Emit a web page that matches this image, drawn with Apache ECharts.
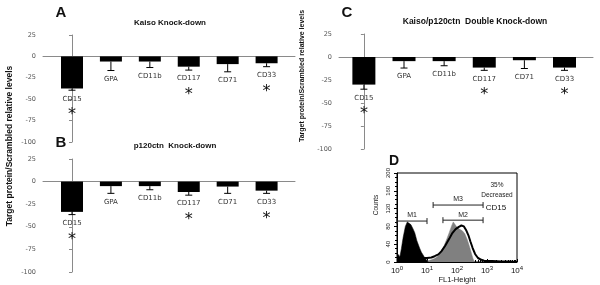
<!DOCTYPE html>
<html>
<head>
<meta charset="utf-8">
<script src="https://cdn.jsdelivr.net/npm/echarts@6/dist/echarts.min.js"></script>
<style>
  html, body { margin: 0; padding: 0; background: #fff; }
  #chart { width: 600px; height: 285px; }
</style>
</head>
<body>
<div id="chart"></div>
<script>
// bar panels A-C: target protein / scrambled relative levels (%)
const categories = ['CD15', 'GPA', 'CD11b', 'CD117', 'CD71', 'CD33'];
const stars = ['*', '', '', '*', '', '*'];
const kaisoMean = [-37.5, -6, -6, -12, -9, -8];
const kaisoErr = [2, 10.5, 7, 4, 9, 4];
const p120Mean = [-33.5, -5, -5, -11.5, -5.5, -10];
const p120Err = [3, 8, 4, 3.5, 7.5, 3];
const doubleMean = [-30, -4.5, -4.5, -11.5, -3.5, -11.5];
const doubleErr = [5, 7.5, 5, 3, 9, 3];
const levelMin = -100, levelMax = 25, levelStep = 25;

// panel D: flow histogram (FL1-Height vs counts)
const isoChannel = [1, 1.1, 1.25, 1.4, 1.6, 1.9, 2.2, 2.5, 2.9, 3.4, 3.9, 4.6, 5.7, 6.5, 7.4, 8.5, 9.5, 11];
const isoCounts = [20, 22, 12, 30, 55, 80, 90, 86, 84, 75, 66, 48, 31, 22, 16, 9, 5, 0];
const scrChannel = [10, 14, 18, 24, 30, 38, 46, 55, 65, 75, 85, 100, 120, 150, 180, 220, 260, 300, 340, 380];
const scrCounts = [2, 5, 8, 14, 24, 38, 52, 66, 80, 90, 86, 78, 74, 70, 64, 50, 35, 20, 8, 0];
const kdChannel = [1, 2, 4, 7, 10, 14, 18, 24, 30, 40, 55, 70, 90, 115, 140, 170, 200, 240, 280, 330, 400, 500, 650, 800, 1000, 1500, 3000, 6000, 10000];
const kdCounts = [5, 8, 10, 9, 9, 10, 13, 17, 24, 36, 52, 65, 74, 79, 82, 80, 72, 60, 46, 32, 18, 9, 5, 3, 2, 2, 1, 1, 0];
const gateNames = ['M1', 'M2', 'M3'];
const gateFrom = [1, 34, 16];
const gateTo = [10, 740, 740];
const gateLevel = [92, 94, 128];
const countMax = 200, countStep = 40;

const zip = (xs, ys) => xs.map((x, i) => [x, ys[i]]);

const chart = echarts.init(document.getElementById('chart'));

const panels = [
    { grid: { left: 43, top: 35, width: 252, height: 107 }, xMin: -0.745, xMax: 5.73, mean: kaisoMean, err: kaisoErr, barWidth: 22 },
    { grid: { left: 43, top: 159, width: 252, height: 113 }, xMin: -0.745, xMax: 5.73, mean: p120Mean, err: p120Err, barWidth: 22 },
    { grid: { left: 339, top: 34, width: 254, height: 115 }, xMin: -0.62, xMax: 5.71, mean: doubleMean, err: doubleErr, barWidth: 23 }
];

function errorItem(params, api) {
    const i = api.value(0);
    const top = api.coord([i, api.value(1)]);
    const end = api.coord([i, api.value(2)]);
    const kids = [
        { type: 'line', shape: { x1: top[0], y1: top[1], x2: end[0], y2: end[1] }, style: { stroke: '#000', lineWidth: 1 } },
        { type: 'line', shape: { x1: end[0] - 3.5, y1: end[1], x2: end[0] + 3.5, y2: end[1] }, style: { stroke: '#000', lineWidth: 1 } },
        { type: 'text', style: { text: categories[params.dataIndex], x: end[0], y: end[1] + 5, align: 'center', verticalAlign: 'top', fill: '#333', font: '7px "DejaVu Sans"' } }
    ];
    if (stars[params.dataIndex]) {
        kids.push({ type: 'text', style: { text: stars[params.dataIndex], x: end[0], y: end[1] + 17, align: 'center', verticalAlign: 'top', fill: '#111', font: '16px "DejaVu Sans"' } });
    }
    return { type: 'group', children: kids };
}

function gateItem(params, api) {
    const a = api.coord([api.value(0), api.value(2)]);
    const b = api.coord([api.value(1), api.value(2)]);
    const st = { stroke: '#222', lineWidth: 1 };
    return {
        type: 'group',
        children: [
            { type: 'line', shape: { x1: a[0], y1: a[1], x2: b[0], y2: b[1] }, style: st },
            { type: 'line', shape: { x1: a[0], y1: a[1] - 3, x2: a[0], y2: a[1] + 3 }, style: st },
            { type: 'line', shape: { x1: b[0], y1: b[1] - 3, x2: b[0], y2: b[1] + 3 }, style: st },
            { type: 'text', style: { text: gateNames[params.dataIndex], x: (a[0] + b[0]) / 2, y: a[1] - 2, align: 'center', verticalAlign: 'bottom', fill: '#222', font: '7px "Liberation Sans"' } }
        ]
    };
}

const grid = [], xAxis = [], yAxis = [], series = [];

panels.forEach((p, k) => {
    grid.push(p.grid);
    xAxis.push({
        type: 'value', gridIndex: k, min: p.xMin, max: p.xMax,
        axisLine: { onZero: true, lineStyle: { color: '#8a8a8a', width: 1 } },
        axisTick: { show: false }, axisLabel: { show: false }, splitLine: { show: false }
    });
    yAxis.push({
        type: 'value', gridIndex: k, min: levelMin, max: levelMax, interval: levelStep,
        axisLine: { show: true, lineStyle: { color: '#8a8a8a' } },
        axisTick: { show: true, length: 3, lineStyle: { color: '#8a8a8a' } },
        axisLabel: { color: '#555', fontSize: 6.5, fontFamily: 'DejaVu Sans', margin: 7 },
        splitLine: { show: false }
    });
    series.push({
        type: 'bar', xAxisIndex: k, yAxisIndex: k, barWidth: p.barWidth,
        itemStyle: { color: '#000' }, silent: true,
        data: p.mean.map((v, i) => [i, v])
    });
    series.push({
        type: 'custom', xAxisIndex: k, yAxisIndex: k, clip: false, z: 3,
        renderItem: errorItem,
        data: p.mean.map((v, i) => [i, v, v - p.err[i]])
    });
});

// panel D
grid.push({ left: 397, top: 173, width: 120, height: 89, show: true, borderColor: '#000', borderWidth: 1 });
xAxis.push({
    type: 'log', logBase: 10, gridIndex: 3, min: 1, max: 10000,
    name: 'FL1-Height', nameLocation: 'middle', nameGap: 14,
    nameTextStyle: { fontSize: 7.5, fontFamily: 'Liberation Sans', color: '#111' },
    axisLine: { lineStyle: { color: '#000' } },
    axisTick: { inside: true, length: 3, lineStyle: { color: '#000' } },
    minorTick: { show: true, splitNumber: 9, length: 2, lineStyle: { color: '#000' } },
    axisLabel: {
        margin: 3, color: '#111',
        formatter: v => '10{s|' + Math.round(Math.log10(v)) + '}',
        rich: { s: { fontSize: 6, verticalAlign: 'top', padding: [0, 0, 5, 0] } },
        fontSize: 8, fontFamily: 'Liberation Sans'
    },
    splitLine: { show: false }
});
yAxis.push({
    type: 'value', gridIndex: 3, min: 0, max: countMax, interval: countStep,
    axisLine: { show: true, lineStyle: { color: '#000' } },
    axisTick: { show: true, length: 3, lineStyle: { color: '#000' } },
    minorTick: { show: true, splitNumber: 4, length: 2, lineStyle: { color: '#000' } },
    axisLabel: { rotate: 90, fontSize: 6, fontFamily: 'Liberation Sans', color: '#222', margin: 6 },
    splitLine: { show: false }
});
series.push({
    type: 'line', xAxisIndex: 3, yAxisIndex: 3, symbol: 'none', silent: true,
    lineStyle: { color: '#808080', width: 0.5 }, areaStyle: { color: '#808080', opacity: 1 },
    data: zip(scrChannel, scrCounts)
});
series.push({
    type: 'line', xAxisIndex: 3, yAxisIndex: 3, symbol: 'none', silent: true,
    lineStyle: { color: '#000', width: 0.5 }, areaStyle: { color: '#000', opacity: 1 },
    data: zip(isoChannel, isoCounts)
});
series.push({
    type: 'line', xAxisIndex: 3, yAxisIndex: 3, symbol: 'none', silent: true,
    lineStyle: { color: '#000', width: 2 },
    data: zip(kdChannel, kdCounts)
});
series.push({
    type: 'custom', xAxisIndex: 3, yAxisIndex: 3, clip: false, renderItem: gateItem,
    data: gateNames.map((n, i) => [gateFrom[i], gateTo[i], gateLevel[i]])
});

const ylab = 'Target protein/Scrambled relative levels';
const bold = (size) => ({ fontSize: size, fontWeight: 'bold', fontFamily: 'Liberation Sans', fill: '#111', align: 'center', verticalAlign: 'middle' });
const graphic = [
    { type: 'text', x: 61, y: 13, style: Object.assign(bold(15), { text: 'A' }) },
    { type: 'text', x: 61, y: 143, style: Object.assign(bold(15), { text: 'B' }) },
    { type: 'text', x: 347, y: 13, style: Object.assign(bold(15), { text: 'C' }) },
    { type: 'text', x: 394, y: 161, style: Object.assign(bold(14), { text: 'D' }) },
    { type: 'text', x: 170, y: 23, style: Object.assign(bold(8), { text: 'Kaiso Knock-down' }) },
    { type: 'text', x: 175, y: 146, style: Object.assign(bold(8), { text: 'p120ctn  Knock-down' }) },
    { type: 'text', x: 475, y: 22, style: Object.assign(bold(8.5), { text: 'Kaiso/p120ctn  Double Knock-down' }) },
    { type: 'text', x: 10, y: 146, rotation: Math.PI / 2, style: Object.assign(bold(8.5), { text: ylab }) },
    { type: 'text', x: 302, y: 76, rotation: Math.PI / 2, style: Object.assign(bold(7), { text: ylab }) },
    { type: 'text', x: 376, y: 205, rotation: Math.PI / 2, style: { text: 'Counts', fontSize: 6.5, fontFamily: 'Liberation Sans', fill: '#222', align: 'center', verticalAlign: 'middle' } },
    { type: 'text', x: 497, y: 185, style: { text: '35%', fontSize: 6.5, fontFamily: 'Liberation Sans', fill: '#222', align: 'center', verticalAlign: 'middle' } },
    { type: 'text', x: 497, y: 195, style: { text: 'Decreased', fontSize: 6.5, fontFamily: 'Liberation Sans', fill: '#222', align: 'center', verticalAlign: 'middle' } },
    { type: 'text', x: 496, y: 208, style: { text: 'CD15', fontSize: 8, fontFamily: 'Liberation Sans', fill: '#111', align: 'center', verticalAlign: 'middle' } }
];

chart.setOption({
    backgroundColor: '#fff',
    animation: false,
    grid: grid,
    xAxis: xAxis,
    yAxis: yAxis,
    series: series,
    graphic: graphic
});
</script>
</body>
</html>
